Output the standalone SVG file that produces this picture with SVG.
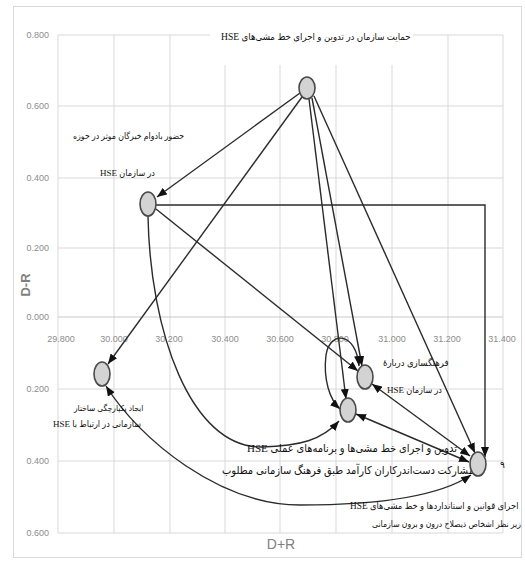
<svg xmlns="http://www.w3.org/2000/svg" width="525" height="561" viewBox="0 0 525 561">
<style>
.grid{stroke:#d9d9d9;stroke-width:1;fill:none}
.ax{font-family:"Liberation Sans",Arial,sans-serif;font-size:9px;fill:#8c8c8c}
.atitle{font-family:"Liberation Sans",Arial,sans-serif;font-size:13px;fill:#7f7f7f}
.lbl{font-family:"Liberation Serif","DejaVu Sans Condensed","DejaVu Sans",serif;font-size:11px;fill:#111}
.node{fill:#d3d3d3;stroke:#4a4a4a;stroke-width:1.6}
.edge{stroke:#2b2b2b;stroke-width:1.4;fill:none;marker-end:url(#ah)}
.both{marker-start:url(#ah)}
</style>
<defs>
<marker id="ah" viewBox="0 0 10 8" refX="10" refY="4" markerWidth="10" markerHeight="8" markerUnits="userSpaceOnUse" orient="auto-start-reverse">
<path d="M0,0 L10,4 L0,8 z" fill="#111"/>
</marker>
</defs>
<rect x="0" y="0" width="525" height="561" fill="#fff"/>
<rect x="13.5" y="6.5" width="508" height="551" fill="none" stroke="#d9d9d9"/>
<g id="grid">
<path class="grid" d="M58,35H210M413,35H503M58,106H503M58,178H503M58,248H503M58,389H503M58,461H503M58,533H503"/>
<path class="grid" d="M58,35V533M114,35V533M170,35V533M225,65V533M280,65V533M336,65V533M392,65V533M448,35V533M503,35V533"/>
<path d="M58,317H503" stroke="#c8c8c8" stroke-width="1"/>
</g>
<g id="axis-labels">
<text class="ax" x="49" y="38" text-anchor="end">0.800</text>
<text class="ax" x="49" y="109" text-anchor="end">0.600</text>
<text class="ax" x="49" y="181" text-anchor="end">0.400</text>
<text class="ax" x="49" y="251" text-anchor="end">0.200</text>
<text class="ax" x="49" y="320" text-anchor="end">0.000</text>
<text class="ax" x="49" y="392" text-anchor="end">0.200</text>
<text class="ax" x="49" y="464" text-anchor="end">0.400</text>
<text class="ax" x="49" y="536" text-anchor="end">0.600</text>
<text class="ax" x="61" y="342" text-anchor="middle">29.800</text>
<text class="ax" x="114" y="342" text-anchor="middle">30.000</text>
<text class="ax" x="169" y="342" text-anchor="middle">30.200</text>
<text class="ax" x="225" y="342" text-anchor="middle">30.400</text>
<text class="ax" x="280" y="342" text-anchor="middle">30.600</text>
<text class="ax" x="335" y="342" text-anchor="middle">30.800</text>
<text class="ax" x="392" y="342" text-anchor="middle">31.000</text>
<text class="ax" x="447" y="342" text-anchor="middle">31.200</text>
<text class="ax" x="502" y="342" text-anchor="middle">31.400</text>
<text class="atitle" transform="translate(30,285) rotate(-90)" text-anchor="middle" style="font-weight:bold">D-R</text>
<text class="atitle" x="281" y="549" text-anchor="middle" style="font-size:14px">D+R</text>
</g>
<g id="connectors">
<path class="edge" d="M300,93 L157,197"/>
<path class="edge" d="M302,97 L108,364"/>
<path class="edge" d="M309,99 L346,399"/>
<path class="edge" d="M312,98 L362,366"/>
<path class="edge" d="M314,96 L475,453"/>
<path class="edge" d="M156,209 L358,371"/>
<path class="edge" d="M156,205 H485 V457"/>
<path class="edge" d="M148,216 C 150,330 190,448 262,447 C 300,446 322,440 339,421"/>
<path class="edge both" d="M106,386 C 140,440 220,505 300,505 C 380,505 440,496 471,475"/>
<path class="edge both" d="M372,384 L470,456"/>
<path class="edge both" d="M356,414 L469,462"/>
<path class="edge both" d="M359,366 C 356,332 330,330 326,355 C 323,380 330,400 340,409"/>
</g>
<g id="n1">
<ellipse class="node" cx="307" cy="88" rx="8" ry="11"/>
<rect x="210" y="29" width="202" height="35" fill="#fff"/>
<text class="lbl" x="221" y="40" style="font-size:9.6px">&#x2067;حمایت سازمان در تدوین و اجرای خط مشی‌های HSE&#x2069;</text>
</g>
<g id="n2">
<ellipse class="node" cx="148" cy="204" rx="8" ry="12"/>
<text class="lbl" x="73" y="139" style="font-size:8.7px">حضور بادوام خبرگان موثر در حوزه</text>
<text class="lbl" x="100" y="176" style="font-size:9px">&#x2067;در سازمان HSE&#x2069;</text>
</g>
<g id="n3">
<ellipse class="node" cx="102" cy="374" rx="8" ry="12"/>
<text class="lbl" x="74" y="411" style="font-size:8.3px">ایجاد یکپارچگی ساختار</text>
<text class="lbl" x="53" y="427" style="font-size:9px">&#x2067;سازمانی در ارتباط با HSE&#x2069;</text>
</g>
<g id="n4">
<ellipse class="node" cx="365" cy="377" rx="8" ry="12"/>
<text class="lbl" x="383" y="366" style="font-size:9.5px">فرهنگسازی دربارهٔ</text>
<text class="lbl" x="387" y="393" style="font-size:9px">&#x2067;در سازمان HSE&#x2069;</text>
</g>
<g id="n5">
<ellipse class="node" cx="348" cy="410" rx="8" ry="12"/>
<text class="lbl" x="247" y="452">&#x2067;تدوین و اجرای خط مشی‌ها و برنامه‌های عملی HSE&#x2069;</text>
<text class="lbl" x="222" y="474">با مشارکت دست‌اندرکاران کارآمد طبق فرهنگ سازمانی مطلوب</text>
</g>
<g id="n6">
<ellipse class="node" cx="478" cy="464" rx="8" ry="12"/>
<text class="lbl" x="350" y="509" style="font-size:9.3px">&#x2067;اجرای قوانین و استانداردها و خط مشی‌های HSE&#x2069;</text>
<text class="lbl" x="372" y="527" style="font-size:8.6px">زیر نظر اشخاص ذیصلاح درون و برون سازمانی</text>
<text class="lbl" x="500" y="468" style="font-size:10px">۹</text>
</g>
</svg>
